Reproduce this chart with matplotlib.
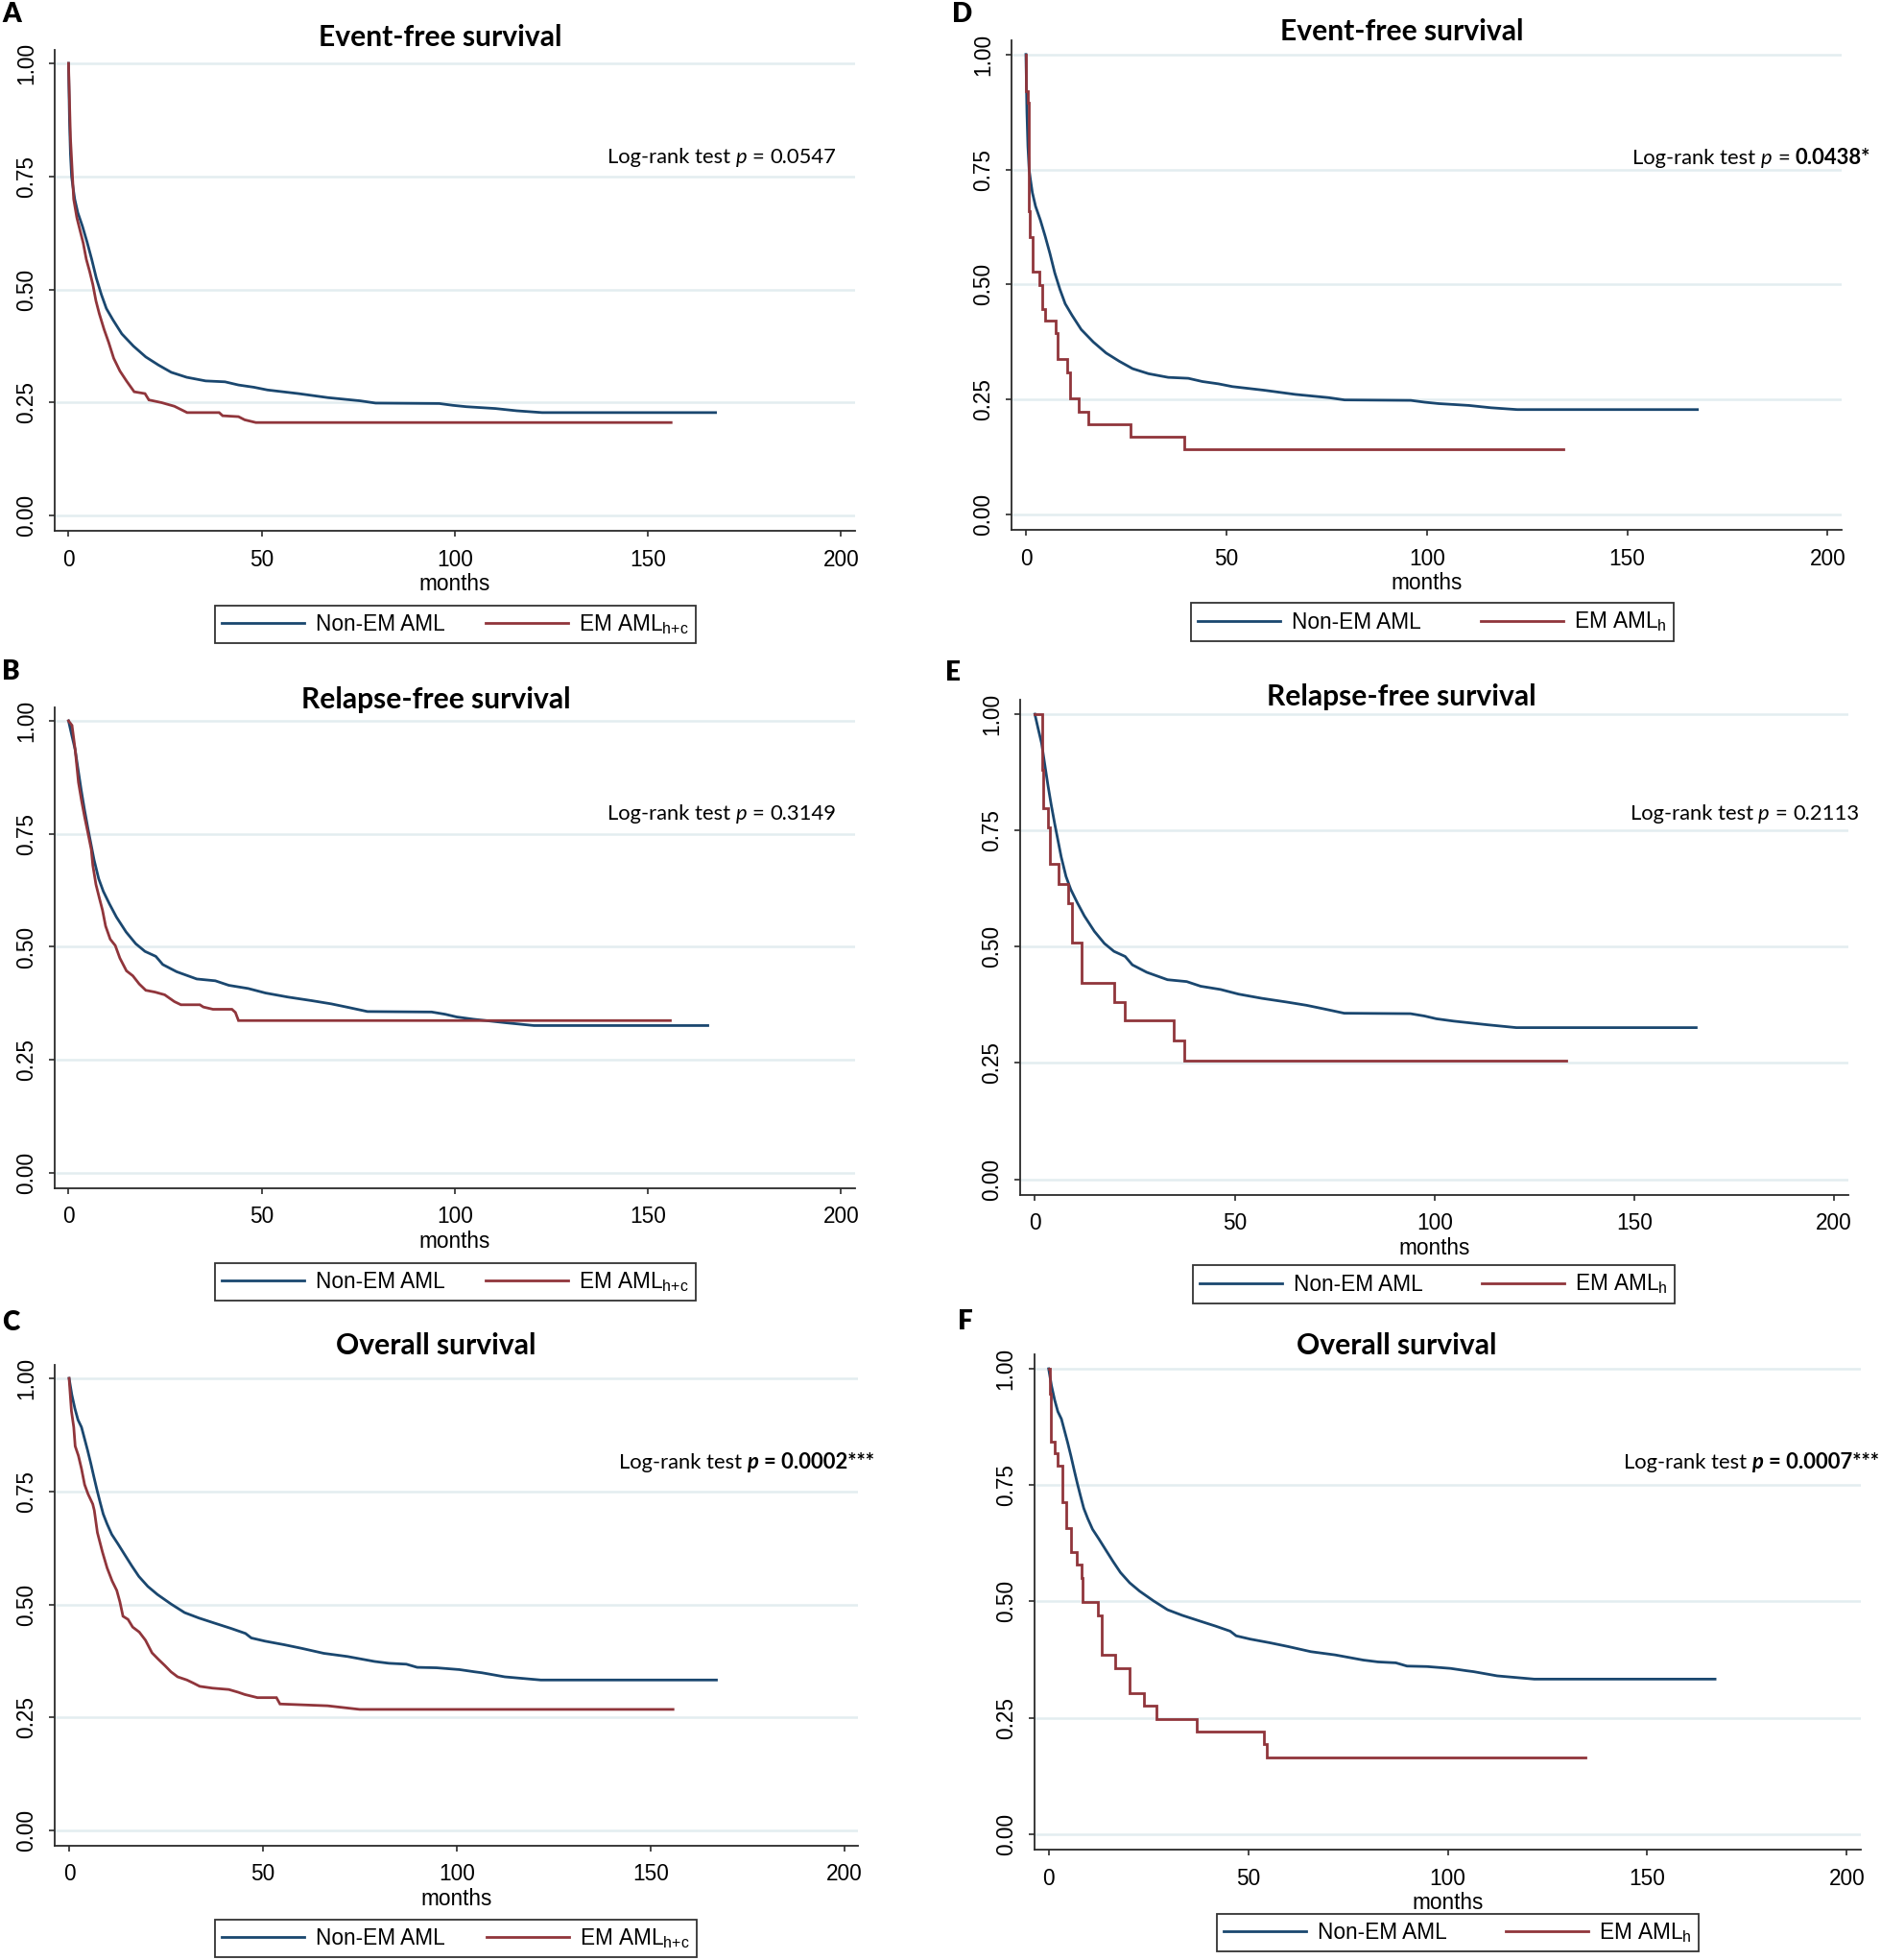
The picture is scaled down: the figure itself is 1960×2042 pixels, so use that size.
import numpy as np
import matplotlib
matplotlib.use("Agg")
import matplotlib.pyplot as plt
from matplotlib import font_manager as fm

# ---------------- data ----------------
# Non-EM AML (shared by both comparisons)
EFS_NONEM_T = [0, 0.25, 0.5, 0.8, 1.1, 1.6, 2.4, 3.6, 4.8, 6.0, 7.2, 8.5, 9.8, 11.5, 13.8,
               16.8, 20.0, 23.3, 26.6, 30.6, 35.5, 40.5, 44.0, 48.0, 51.5, 59.5, 67.2, 75.5,
               79.5, 96.0, 99.5, 103, 110.5, 116, 122.6, 167.5]
EFS_NONEM_S = [1.0, 0.875, 0.80, 0.75, 0.73, 0.70, 0.67, 0.64, 0.605, 0.567, 0.525, 0.489,
               0.458, 0.433, 0.402, 0.375, 0.351, 0.333, 0.317, 0.306, 0.298, 0.296, 0.289,
               0.284, 0.278, 0.27, 0.261, 0.254, 0.249, 0.248, 0.244, 0.241, 0.237, 0.232,
               0.228, 0.228]

RFS_NONEM_T = [0, 0.85, 1.7, 2.5, 3.3, 4.1, 5.0, 5.8, 6.6, 7.8, 9.0, 10.6, 12.4, 14.9, 17.4,
               19.8, 22.6, 24.4, 28.0, 33.2, 38.0, 41.5, 46.5, 51.0, 56.8, 63.0, 68.0, 72.5,
               77.4, 94.0, 97.5, 100.5, 104.8, 113.4, 120.5, 165.5]
RFS_NONEM_S = [1.0, 0.968, 0.937, 0.891, 0.846, 0.805, 0.763, 0.728, 0.693, 0.651, 0.623,
               0.595, 0.566, 0.533, 0.507, 0.49, 0.479, 0.461, 0.445, 0.429, 0.425, 0.415,
               0.408, 0.398, 0.389, 0.381, 0.374, 0.366, 0.357, 0.356, 0.351, 0.345, 0.34,
               0.332, 0.326, 0.326]

OS_NONEM_T = [0, 0.7, 1.5, 2.3, 3.2, 4.0, 4.8, 5.6, 6.4, 7.2, 8.0, 8.8, 9.8, 11.0, 12.6, 14.5,
              16.2, 18.0, 20.3, 22.8, 26.3, 29.8, 33.5, 37.8, 41.8, 45.5, 47.0, 50.5, 55.5,
              60.0, 65.7, 71.8, 78.8, 82.5, 87.0, 89.8, 94.8, 100.7, 104.7, 106.5, 112.4,
              121.7, 167.0]
OS_NONEM_S = [1.0, 0.964, 0.933, 0.908, 0.892, 0.866, 0.84, 0.812, 0.782, 0.753, 0.726, 0.70,
              0.678, 0.655, 0.634, 0.608, 0.585, 0.562, 0.54, 0.522, 0.501, 0.482, 0.47,
              0.458, 0.447, 0.436, 0.426, 0.419, 0.411, 0.403, 0.392, 0.385, 0.374, 0.37,
              0.368, 0.361, 0.36, 0.356, 0.351, 0.349, 0.34, 0.333, 0.333]

# EM AML h+c
EFS_HC_T = [0, 0.5, 1.33, 2.15, 3.0, 3.8, 4.6, 5.5, 6.3, 7.1, 7.95, 9.2, 10.4, 11.7, 13.3,
            15.0, 17.0, 19.8, 20.8, 24.1, 27.4, 30.7, 39.0, 39.9, 44.0, 45.6, 48.5, 156]
EFS_HC_S = [1.0, 0.836, 0.70, 0.659, 0.63, 0.603, 0.567, 0.539, 0.511, 0.475, 0.447, 0.412,
            0.383, 0.348, 0.32, 0.298, 0.274, 0.27, 0.256, 0.25, 0.242, 0.228, 0.228, 0.221,
            0.219, 0.212, 0.206, 0.206]

RFS_HC_T = [0, 0.9, 1.74, 2.57, 3.4, 4.2, 5.05, 5.9, 6.3, 7.1, 7.95, 8.8, 9.6, 10.8, 12.1,
            13.3, 15.0, 16.65, 18.3, 20.0, 22.4, 24.9, 27.4, 29.1, 34.0, 34.9, 37.4, 42.3,
            43.2, 44.0, 155.8]
RFS_HC_S = [1.0, 0.99, 0.935, 0.864, 0.822, 0.786, 0.751, 0.715, 0.68, 0.638, 0.609, 0.581,
            0.546, 0.517, 0.503, 0.475, 0.447, 0.436, 0.418, 0.404, 0.40, 0.394, 0.379,
            0.372, 0.372, 0.367, 0.362, 0.362, 0.355, 0.337, 0.337]

OS_HC_T = [0, 0.6, 1.2, 1.57, 2.4, 3.2, 4.0, 4.9, 6.1, 6.5, 7.3, 8.6, 9.8, 11.1, 12.3, 13.1,
           13.9, 15.2, 16.4, 18.1, 19.7, 21.4, 23.0, 24.7, 26.3, 28.0, 30.4, 32.1, 33.7,
           37.0, 41.2, 43.6, 45.3, 48.6, 53.5, 54.4, 66.7, 75.0, 155.8]
OS_HC_S = [1.0, 0.928, 0.892, 0.85, 0.829, 0.80, 0.765, 0.744, 0.722, 0.708, 0.659, 0.616,
           0.581, 0.552, 0.531, 0.506, 0.474, 0.467, 0.45, 0.439, 0.421, 0.393, 0.379,
           0.365, 0.351, 0.34, 0.333, 0.326, 0.319, 0.315, 0.312, 0.306, 0.301, 0.294,
           0.294, 0.28, 0.276, 0.268, 0.268]

# EM AML h (step functions)
EFS_H_T = [0, 0.1, 0.4, 0.7, 1.0, 1.7, 3.4, 4.0, 4.9, 7.4, 7.9, 10.4, 11.0, 13.2, 15.6,
           26.2, 39.6, 134]
EFS_H_S = [1.0, 0.92, 0.896, 0.66, 0.604, 0.527, 0.499, 0.447, 0.421, 0.395, 0.339, 0.308,
           0.252, 0.224, 0.197, 0.169, 0.141, 0.141]

RFS_H_T = [0, 1.84, 2.0, 3.4, 3.8, 6.0, 8.4, 9.2, 11.6, 19.8, 22.4, 34.7, 37.4, 133]
RFS_H_S = [1.0, 0.881, 0.798, 0.757, 0.678, 0.635, 0.594, 0.508, 0.423, 0.381, 0.341, 0.298,
           0.255, 0.255]

OS_H_T = [0, 0.3, 0.55, 1.5, 2.2, 3.5, 4.4, 5.5, 7.0, 8.2, 8.6, 12.3, 13.4, 16.6, 20.2, 24.0,
          27.0, 37.0, 54.0, 54.7, 134.5]
OS_H_S = [1.0, 0.947, 0.844, 0.818, 0.791, 0.713, 0.658, 0.605, 0.579, 0.551, 0.498, 0.469,
          0.386, 0.357, 0.303, 0.276, 0.248, 0.22, 0.193, 0.164, 0.164]

X_TICKS = [0, 50, 100, 150, 200]
Y_TICKS = [0.0, 0.25, 0.5, 0.75, 1.0]
Y_TICKLABELS = ["0.00", "0.25", "0.50", "0.75", "1.00"]
TITLES = ["Event-free survival", "Relapse-free survival", "Overall survival"]
NONEM_LABEL = "Non-EM AML"
EM_HC_LABEL = r"EM AML$_{\mathregular{h{+}c}}$"
EM_H_LABEL = r"EM AML$_{\mathregular{h}}$"
P_VALUES = ["0.0547", "0.3149", "0.0002***", "0.0438*", "0.2113", "0.0007***"]

# ---------------- styling ----------------
W, H = 1960, 2042
BLUE = "#1a476f"
RED = "#90353b"
GRID = "#e3edf0"
AXC = "#2a2a2a"

avail = {f.name for f in fm.fontManager.ttflist}
if "Liberation Sans Narrow" in avail:
    NARROW, TICK_SIZE, LEG_SIZE = "Liberation Sans Narrow", 18.5, 19.5
else:
    NARROW, TICK_SIZE, LEG_SIZE = "Liberation Sans", 16.3, 16.3
CAL = "Lato" if "Lato" in avail else "DejaVu Sans"

plt.rcParams["font.family"] = NARROW
plt.rcParams["mathtext.fontset"] = "dejavusans"

fig = plt.figure(figsize=(W / 100, H / 100), dpi=100)
fig.patch.set_facecolor("white")
renderer = fig.canvas.get_renderer()


def fx(px):
    return px / W


def fy(py):
    return 1 - py / H


# panel calibration: x pixel of month 0, pixels per month, y pixel of 1.0 and 0.0
CAL_PANELS = {
    "A": (71.4, 4.025, 66.0, 537.3),
    "B": (71.4, 4.025, 751.0, 1222.0),
    "C": (72.0, 4.039, 1436.0, 1907.2),
    "D": (1069.0, 4.177, 56.7, 536.0),
    "E": (1078.3, 4.164, 744.0, 1228.6),
    "F": (1092.7, 4.158, 1426.0, 1910.8),
}
XL, XR = -3.6, 203.6
YB, YT = -0.033, 1.03


def make_axes(key):
    x0, ppm, y1, y0 = CAL_PANELS[key]
    left = x0 + XL * ppm
    right = x0 + XR * ppm
    top = y0 - YT * (y0 - y1)
    bottom = y0 - YB * (y0 - y1)
    ax = fig.add_axes([fx(left), fy(bottom), (right - left) / W, (bottom - top) / H])
    ax.set_xlim(XL, XR)
    ax.set_ylim(YB, YT)
    for s in ("top", "right"):
        ax.spines[s].set_visible(False)
    for s in ("left", "bottom"):
        ax.spines[s].set_color(AXC)
        ax.spines[s].set_linewidth(1.3)
    ax.set_xticks(X_TICKS)
    ax.set_yticks(Y_TICKS)
    ax.set_yticklabels(Y_TICKLABELS)
    ax.tick_params(axis="both", colors=AXC, labelcolor="black", length=4.5, width=1.2,
                   labelsize=TICK_SIZE)
    ax.tick_params(axis="x", pad=9)
    ax.tick_params(axis="y", pad=8.5, labelrotation=90)
    for lab in ax.get_yticklabels():
        lab.set_va("center")
    ax.grid(axis="y", color=GRID, linewidth=1.8)
    ax.set_axisbelow(True)
    ax.set_xlabel("months", fontsize=TICK_SIZE, labelpad=2)
    return ax


def rich_text(pieces, right_px, base_px, size):
    sp1 = fig.text(0, 0, "a a", fontsize=size, family=CAL)
    sp2 = fig.text(0, 0, "aa", fontsize=size, family=CAL)
    space = sp1.get_window_extent(renderer).width - sp2.get_window_extent(renderer).width
    sp1.remove()
    sp2.remove()
    objs = []
    x = 0.0
    for s, weight, style in pieces:
        t = fig.text(0, fy(base_px), s, fontsize=size, family=CAL, weight=weight,
                     style=style, va="baseline", ha="left")
        objs.append((t, x))
        x += t.get_window_extent(renderer).width + space
    total = x - space
    left = right_px - total
    for t, xo in objs:
        t.set_x(fx(left + xo))
    return objs, total


def p_pieces(p, bold_p=False, bold_val=False):
    if bold_p:
        return [("Log-rank test", "normal", "normal"), ("p", "bold", "italic"),
                ("= " + p, "bold", "normal")]
    return [("Log-rank test", "normal", "normal"), ("p", "normal", "italic"),
            ("=", "normal", "normal"), (p, "bold" if bold_val else "normal", "normal")]


# fit annotation size on panel A text width (~239 px)
trial, tw = rich_text(p_pieces(P_VALUES[0]), 871, 170, 16)
for t, _ in trial:
    t.remove()
ANN_SIZE = 16 * 239.0 / tw

# fit title size on panel A title width (~253 px)
tt = fig.text(0.5, 0.5, TITLES[0], fontsize=20, family=CAL, weight="bold")
TITLE_SIZE = 20 * 253.0 / tt.get_window_extent(renderer).width
tt.remove()

# legend boxes: left, right, center-y (pixels)
PANELS = [
    dict(key="A", title=TITLES[0], a=(EFS_NONEM_T, EFS_NONEM_S), b=(EFS_HC_T, EFS_HC_S),
         steps=False, lab=EM_HC_LABEL, p=p_pieces(P_VALUES[0]), pr=(871, 170),
         tpos=(458.6, 48), letter=(2, 23), leg=(224, 725, 650.5)),
    dict(key="B", title=TITLES[1], a=(RFS_NONEM_T, RFS_NONEM_S), b=(RFS_HC_T, RFS_HC_S),
         steps=False, lab=EM_HC_LABEL, p=p_pieces(P_VALUES[1]), pr=(871, 854),
         tpos=(454.4, 737.7), letter=(2, 708), leg=(224, 725, 1335.5)),
    dict(key="C", title=TITLES[2], a=(OS_NONEM_T, OS_NONEM_S), b=(OS_HC_T, OS_HC_S),
         steps=False, lab=EM_HC_LABEL, p=p_pieces(P_VALUES[2], bold_p=True), pr=(911, 1530),
         tpos=(454, 1411), letter=(2, 1386), leg=(224, 726, 2019.5)),
    dict(key="D", title=TITLES[0], a=(EFS_NONEM_T, EFS_NONEM_S), b=(EFS_H_T, EFS_H_S),
         steps=True, lab=EM_H_LABEL, p=p_pieces(P_VALUES[3], bold_val=True), pr=(1949, 171),
         tpos=(1460.6, 42.5), letter=(992, 23), leg=(1241, 1744, 648)),
    dict(key="E", title=TITLES[1], a=(RFS_NONEM_T, RFS_NONEM_S), b=(RFS_H_T, RFS_H_S),
         steps=True, lab=EM_H_LABEL, p=p_pieces(P_VALUES[4]), pr=(1937, 854),
         tpos=(1460, 735.5), letter=(985, 709), leg=(1243, 1745, 1338)),
    dict(key="F", title=TITLES[2], a=(OS_NONEM_T, OS_NONEM_S), b=(OS_H_T, OS_H_S),
         steps=True, lab=EM_H_LABEL, p=p_pieces(P_VALUES[5], bold_p=True), pr=(1958, 1530),
         tpos=(1455, 1411), letter=(998, 1385), leg=(1268, 1770, 2013.5)),
]

for P in PANELS:
    ax = make_axes(P["key"])
    l1, = ax.plot(P["a"][0], P["a"][1], color=BLUE, lw=2.0, solid_joinstyle="round",
                  zorder=3)
    l2, = ax.plot(P["b"][0], P["b"][1], color=RED, lw=2.0,
                  drawstyle="steps-post" if P["steps"] else "default",
                  solid_joinstyle="miter", zorder=3)
    fig.text(fx(P["tpos"][0]), fy(P["tpos"][1]), P["title"], family=CAL, weight="bold",
             fontsize=TITLE_SIZE, ha="center", va="baseline")
    fig.text(fx(P["letter"][0]), fy(P["letter"][1]), P["key"], family=CAL, weight="heavy",
             fontsize=20, ha="left", va="baseline")
    rich_text(P["p"], P["pr"][0], P["pr"][1], ANN_SIZE)
    lx0, lx1, lcy = P["leg"]
    leg = fig.legend(handles=[l1, l2], labels=[NONEM_LABEL, P["lab"]], ncol=2,
                     loc="center", mode="expand",
                     bbox_to_anchor=(fx(lx0), fy(lcy + 21.5), (lx1 - lx0) / W, 43.0 / H),
                     borderaxespad=0,
                     frameon=True, fancybox=False, framealpha=1, edgecolor="#333333",
                     prop={"family": NARROW, "size": LEG_SIZE}, handlelength=3.8,
                     handletextpad=0.5, columnspacing=1.4, borderpad=0.32)
    leg.get_frame().set_linewidth(1.3)

fig.savefig("out.png", dpi=100, facecolor="white")
